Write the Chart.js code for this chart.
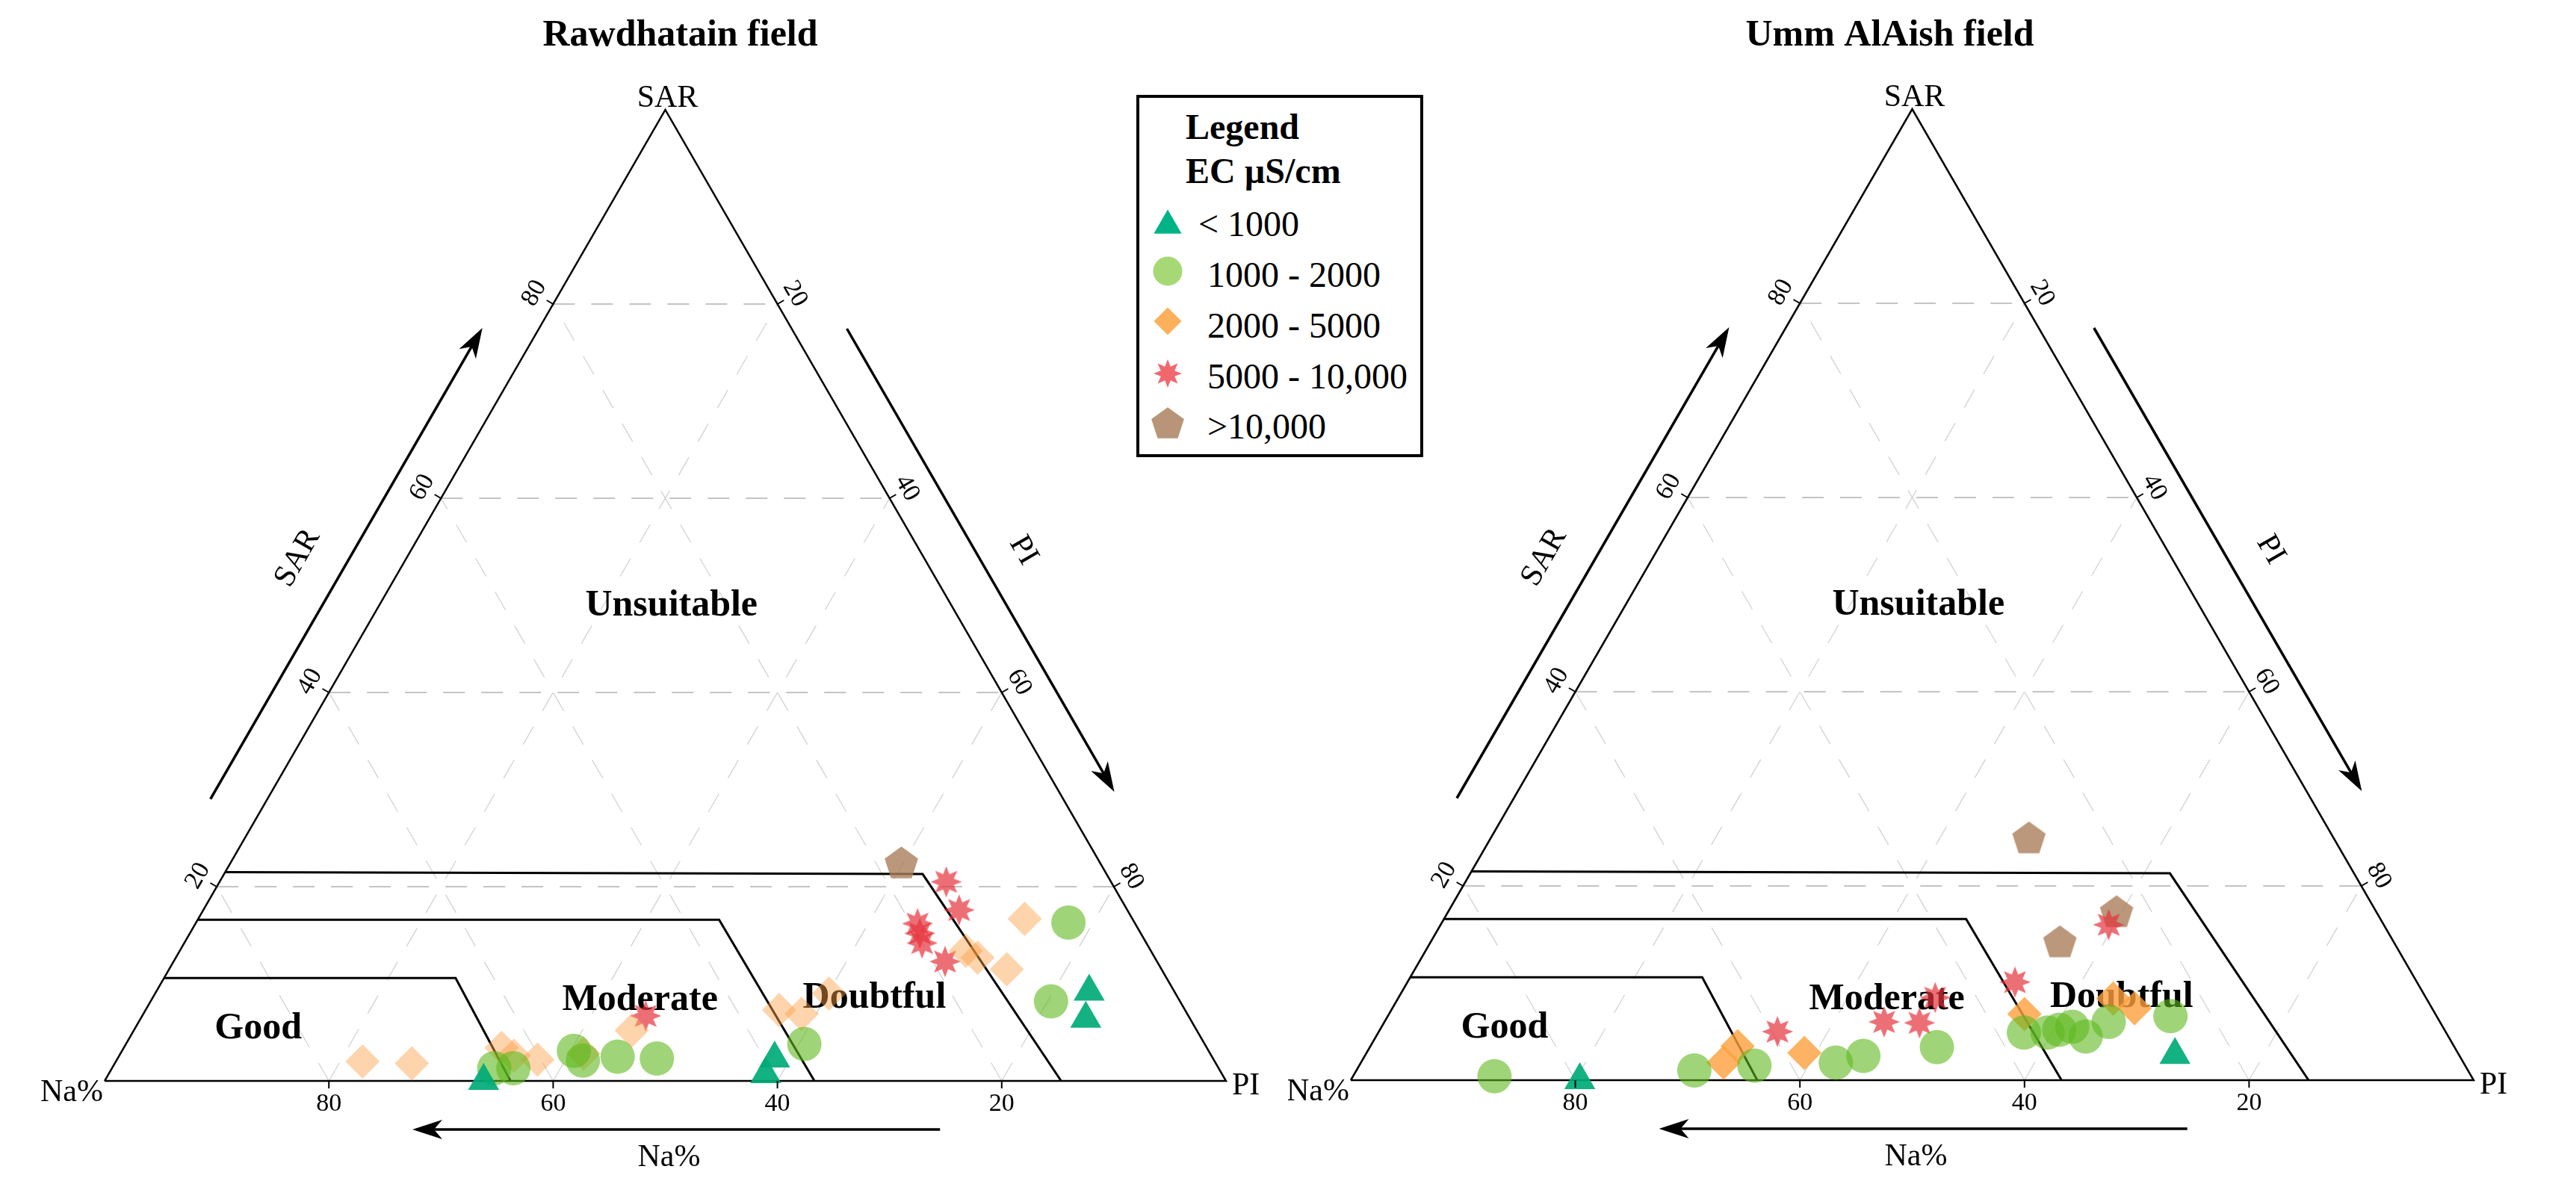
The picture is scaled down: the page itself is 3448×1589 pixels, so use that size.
<!DOCTYPE html>
<html>
<head>
<meta charset="utf-8">
<title>Ternary diagrams – Rawdhatain and Umm AlAish fields</title>
<script src="https://cdn.jsdelivr.net/npm/chart.js@4.4.1/dist/chart.umd.min.js"></script>
<style>
  html, body { margin:0; padding:0; background:#ffffff; }
  body { position:relative; width:3448px; height:1589px; overflow:hidden; }
  .tern { position:absolute; top:0; }
  #legend { position:absolute; left:1521px; top:127px; width:376px; height:477px; border:4px solid #000; background:#fff; z-index:3;
            font-family:"Liberation Serif","Times New Roman",serif; color:#000; }
  #legend .t { position:absolute; white-space:pre; font-size:48px; line-height:48px; }
  #legend .b { font-weight:bold; }
  #legend canvas { position:absolute; }
</style>
</head>
<body>
<canvas id="leftChart" class="tern" width="1724" height="1589" style="left:0px"></canvas>
<canvas id="rightChart" class="tern" width="1724" height="1589" style="left:1724px"></canvas>
<div id="legend"></div>
<script>
// ---------------- DATA (ternary: Na%, SAR; PI = 100 - Na% - SAR) ----------------
const groupLabels = ['< 1000', '1000 - 2000', '2000 - 5000', '5000 - 10,000', '>10,000'];
const gridTicks = [20, 40, 60, 80];
const zoneNames = ['Good', 'Moderate', 'Doubtful', 'Unsuitable'];

// Rawdhatain field
const rawTriNa  = [66.2, 39.1, 40.7, 7.6, 9.3];
const rawTriSar = [0.0, 2.3, 0.7, 9.2, 6.4];
const rawCirNa  = [64.6, 62.9, 56.6, 56.3, 53.0, 49.6, 35.7, 5.9, 11.5];
const rawCirSar = [1.3, 1.3, 3.1, 2.1, 2.5, 2.3, 3.8, 16.3, 8.2];
const rawDiaNa  = [76.0, 71.7, 62.9, 62.2, 60.3, 55.9, 50.4, 36.2, 34.4, 30.9, 16.5, 15.8, 13.8, 9.6];
const rawDiaSar = [2.0, 1.8, 3.4, 2.6, 2.2, 2.8, 5.2, 7.3, 6.9, 9.0, 13.4, 12.7, 11.5, 16.7];
const rawStarNa  = [48.4, 14.7, 15.0, 19.4, 19.7, 20.0, 18.9];
const rawStarSar = [6.7, 20.5, 17.6, 16.2, 15.2, 14.2, 12.3];
const rawPentNa  = [17.7];
const rawPentSar = [22.5];

// Umm AlAish field
const ummTriNa  = [79.6, 25.3];
const ummTriSar = [0.0, 2.6];
const ummCirNa  = [87.0, 68.9, 63.3, 55.9, 53.1, 46.1, 37.6, 35.5, 34.3, 33.0, 32.3, 29.5, 23.7];
const ummCirSar = [0.4, 1.0, 1.5, 1.8, 2.5, 3.4, 4.9, 4.9, 5.2, 5.5, 4.5, 6.0, 6.6];
const ummDiaNa  = [65.9, 63.8, 58.2, 36.6, 27.9, 26.5];
const ummDiaSar = [1.8, 3.5, 2.8, 6.8, 8.4, 7.4];
const ummStarNa  = [59.5, 49.5, 46.4, 43.7, 35.8, 24.5];
const ummStarSar = [5.0, 6.0, 5.9, 8.5, 10.1, 16.0];
const ummPentNa  = [27.1, 23.1, 29.7];
const ummPentSar = [25.0, 17.4, 14.3];

// Suitability zone boundaries (Na%, SAR)
const zoneGoodNa  = [89.4, 63.4, 63.8];
const zoneGoodSar = [10.6, 10.6, 0.0];
const zoneModNa   = [83.4, 36.9, 36.7];
const zoneModSar  = [16.6, 16.6, 0.0];
const zoneDoubtNa  = [78.5, 16.4, 14.7];
const zoneDoubtSar = [21.5, 21.3, 0.0];
// Zone label anchors (Na%, SAR)
const zoneLabelNa  = [83.6, 48.1, 27.1, 25.0];
const zoneLabelSar = [5.4, 8.3, 8.5, 48.9];

// ---------------- helpers ----------------
const S3 = Math.sqrt(3) / 2;
const FONT = '"Liberation Serif","Times New Roman",serif';

function ternXY(na, sar) { const pi = 100 - na - sar; return { x: pi + sar / 2, y: sar * S3 }; }
function ternPoints(naArr, sarArr) { return naArr.map((na, i) => ternXY(na, sarArr[i])); }
function withGaps(list) { const out = []; list.forEach(seg => { seg.forEach(p => out.push(p)); out.push({ x: NaN, y: NaN }); }); return out; }

function gridLines(kind) {
  return withGaps(gridTicks.map(v => {
    if (kind === 'sar') return [ternXY(100 - v, v), ternXY(0, v)];
    if (kind === 'na')  return [ternXY(v, 0), ternXY(v, 100 - v)];
    return [ternXY(100 - v, 0), ternXY(0, 100 - v)]; // constant PI
  }));
}

function makeStar(color, rOut, rIn, n) {
  const s = Math.ceil(rOut * 2 + 4); const c = document.createElement('canvas'); c.width = c.height = s;
  const g = c.getContext('2d'); g.fillStyle = color; g.beginPath();
  for (let k = 0; k < 2 * n; k++) { const r = k % 2 ? rIn : rOut; const a = -Math.PI / 2 + k * Math.PI / n; g.lineTo(s / 2 + r * Math.cos(a), s / 2 + r * Math.sin(a)); }
  g.closePath(); g.fill(); return c;
}
function makePent(color, R) {
  const s = Math.ceil(2 * R + 4); const c = document.createElement('canvas'); c.width = c.height = s;
  const g = c.getContext('2d'); g.fillStyle = color; g.beginPath();
  const cy = s / 2 + 0.0955 * R;
  for (let k = 0; k < 5; k++) { const a = -Math.PI / 2 + k * 2 * Math.PI / 5; g.lineTo(s / 2 + R * Math.cos(a), cy + R * Math.sin(a)); }
  g.closePath(); g.fill(); return c;
}

// ---------------- annotation plugin ----------------
function PX(chart, na, sar) { const q = ternXY(na, sar); return { x: chart.scales.x.getPixelForValue(q.x), y: chart.scales.y.getPixelForValue(q.y) }; }
function along(a, b, t, n, off) { return { x: a.x + (b.x - a.x) * t + n.x * off, y: a.y + (b.y - a.y) * t + n.y * off }; }
function rotText(ctx, txt, p, ang) { ctx.save(); ctx.translate(p.x, p.y); ctx.rotate(ang); ctx.fillText(txt, 0, 0); ctx.restore(); }
function arrow(ctx, a, b) {
  const dx = b.x - a.x, dy = b.y - a.y, len = Math.hypot(dx, dy), ux = dx / len, uy = dy / len;
  const hl = 40, hw = 13;
  ctx.beginPath(); ctx.moveTo(a.x, a.y); ctx.lineTo(b.x - ux * hl * 0.7, b.y - uy * hl * 0.7); ctx.lineWidth = 3.5; ctx.stroke();
  ctx.beginPath(); ctx.moveTo(b.x, b.y);
  ctx.lineTo(b.x - ux * hl - uy * hw, b.y - uy * hl + ux * hw);
  ctx.lineTo(b.x - ux * hl * 0.72, b.y - uy * hl * 0.72);
  ctx.lineTo(b.x - ux * hl + uy * hw, b.y - uy * hl - ux * hw);
  ctx.closePath(); ctx.fill();
}

const ternAnno = {
  id: 'ternAnno',
  afterDatasetDraw(chart, args) {
    if (chart.data.datasets[args.index].role !== 'zones') return;
    const ctx = chart.ctx; ctx.save();
    ctx.fillStyle = '#000'; ctx.font = 'bold 50px ' + FONT; ctx.textAlign = 'center'; ctx.textBaseline = 'middle';
    zoneNames.forEach((t, i) => { const p = PX(chart, zoneLabelNa[i], zoneLabelSar[i]); ctx.fillText(t, p.x, p.y); });
    ctx.restore();
  },
  afterDraw(chart, args, o) {
    const ctx = chart.ctx; ctx.save();
    const A = PX(chart, 0, 100), L = PX(chart, 100, 0), R = PX(chart, 0, 0);
    const nL = { x: -S3, y: -0.5 }, nR = { x: S3, y: -0.5 }, nB = { x: 0, y: 1 };
    ctx.fillStyle = '#000'; ctx.strokeStyle = '#000';
    // title
    ctx.font = 'bold 50px ' + FONT; ctx.textAlign = 'center'; ctx.textBaseline = 'middle';
    ctx.fillText(o.title, A.x + o.titleDx, 48);
    // vertex labels
    ctx.font = '42px ' + FONT;
    ctx.textAlign = 'right'; ctx.fillText('Na%', L.x - 2, L.y + 16);
    ctx.textAlign = 'left'; ctx.fillText('PI', R.x + 8, R.y + 7);
    ctx.textAlign = 'center'; ctx.textBaseline = 'alphabetic'; ctx.fillText('SAR', A.x + 3, A.y - 4);
    // ticks and tick labels
    ctx.font = '34px ' + FONT; ctx.textBaseline = 'middle'; ctx.textAlign = 'center'; ctx.lineWidth = 2;
    gridTicks.forEach(v => {
      const pS = PX(chart, 100 - v, v), pP = PX(chart, 0, 100 - v), pN = PX(chart, v, 0);
      [[pS, nL], [pP, nR], [pN, nB]].forEach(([p, n]) => { ctx.beginPath(); ctx.moveTo(p.x, p.y); ctx.lineTo(p.x + n.x * 10, p.y + n.y * 10); ctx.stroke(); });
      rotText(ctx, String(v), { x: pS.x + nL.x * 29, y: pS.y + nL.y * 29 }, -Math.PI / 3);
      rotText(ctx, String(v), { x: pP.x + nR.x * 27, y: pP.y + nR.y * 27 }, Math.PI / 3);
      ctx.fillText(String(v), pN.x, pN.y + 31);
    });
    // direction arrows
    arrow(ctx, along(L, A, 0.265, nL, 66), along(L, A, 0.75, nL, 66));
    arrow(ctx, along(A, R, 0.25, nR, 64), along(A, R, 0.727, nR, 64));
    arrow(ctx, along(R, L, 0.255, nB, 65), along(R, L, 0.7255, nB, 65));
    ctx.font = '42px ' + FONT; ctx.textAlign = 'center'; ctx.textBaseline = 'middle';
    rotText(ctx, 'SAR', along(L, A, 0.49, nL, 126), -Math.PI / 3);
    rotText(ctx, 'PI', along(A, R, 0.5, nR, 120), Math.PI / 3);
    ctx.fillText('Na%', (L.x + R.x) / 2 + 5, L.y + 103);
    ctx.restore();
  }
};

// ---------------- chart builder ----------------
const markerColors = ['rgba(0,170,120,0.92)', 'rgba(95,185,30,0.6)', null, 'rgba(230,50,60,0.7)', 'rgba(170,125,90,0.8)'];
const starImg = makeStar(markerColors[3], 21, 11, 8);
const pentImg = makePent(markerColors[4], 23.5);

function buildChart(id, series, diamondColor, pad, title, titleDx) {
  const mk = (i, pts, style, radius, color) => ({
    label: groupLabels[i], data: pts, showLine: false, clip: false, order: i,
    pointStyle: style, pointRadius: radius, pointHoverRadius: radius,
    pointBackgroundColor: color, pointBorderColor: color, pointBorderWidth: 0
  });
  const line = (pts, color, width, dash, order, role) => ({
    data: pts, showLine: true, pointRadius: 0, borderColor: color, borderWidth: width, borderDash: dash,
    fill: false, tension: 0, clip: false, order, role, borderJoinStyle: 'miter'
  });
  const datasets = [
    mk(0, series[0], 'triangle', 24, markerColors[0]),
    mk(1, series[1], 'circle', 23, markerColors[1]),
    mk(2, series[2], 'rectRot', 23, diamondColor),
    mk(3, series[3], starImg, 20, markerColors[3]),
    mk(4, series[4], pentImg, 22, markerColors[4]),
    line(withGaps([ternPoints(zoneGoodNa, zoneGoodSar), ternPoints(zoneModNa, zoneModSar), ternPoints(zoneDoubtNa, zoneDoubtSar)]), '#000', 3, [], 5, 'zones'),
    line([ternXY(100, 0), ternXY(0, 100), ternXY(0, 0), ternXY(100, 0)], '#000', 2.5, [], 6, 'outline'),
    line(gridLines('sar'), '#c4c4c4', 2.2, [29, 22], 7, 'grid'),
    line(gridLines('na'), '#d2d2d2', 1.3, [28, 24], 8, 'grid'),
    line(gridLines('pi'), '#d2d2d2', 1.3, [28, 24], 9, 'grid')
  ];
  return new Chart(document.getElementById(id), {
    type: 'scatter',
    data: { datasets },
    options: {
      responsive: false, animation: false, devicePixelRatio: 1, events: [],
      layout: { padding: pad },
      scales: {
        x: { type: 'linear', min: 0, max: 100, display: false },
        y: { type: 'linear', min: 0, max: 100 * S3, display: false }
      },
      plugins: { legend: { display: false }, tooltip: { enabled: false }, ternAnno: { title, titleDx } }
    },
    plugins: [ternAnno]
  });
}

buildChart('leftChart', [
  ternPoints(rawTriNa, rawTriSar), ternPoints(rawCirNa, rawCirSar), ternPoints(rawDiaNa, rawDiaSar),
  ternPoints(rawStarNa, rawStarSar), ternPoints(rawPentNa, rawPentSar)
], 'rgba(253,160,70,0.45)', { left: 140, right: 83, top: 147, bottom: 142 }, 'Rawdhatain field', 20);

buildChart('rightChart', [
  ternPoints(ummTriNa, ummTriSar), ternPoints(ummCirNa, ummCirSar), ternPoints(ummDiaNa, ummDiaSar),
  ternPoints(ummStarNa, ummStarSar), ternPoints(ummPentNa, ummPentSar)
], 'rgba(253,160,60,0.8)', { left: 84, right: 137, top: 146, bottom: 143 }, 'Umm AlAish field', -30);

// ---------------- HTML legend ----------------
(function () {
  const box = document.getElementById('legend');
  const addText = (txt, left, top, bold) => { const d = document.createElement('div'); d.className = 't' + (bold ? ' b' : ''); d.textContent = txt; d.style.left = left + 'px'; d.style.top = top + 'px'; box.appendChild(d); };
  addText('Legend', 62, 15, true);
  addText('EC \u00B5S/cm', 62, 74, true);
  const legendColors = ['#00b386', 'rgb(166,217,118)', 'rgb(253,176,92)', 'rgb(240,104,110)', 'rgb(184,149,120)'];
  const textX = [79, 91, 91, 91, 91], textTop = [145, 213, 281, 349, 416], symY = [171, 232, 299, 369, 435];
  groupLabels.forEach((lab, i) => {
    const c = document.createElement('canvas'); c.width = c.height = 56; c.style.left = (38 - 28) + 'px'; c.style.top = (symY[i] - 28) + 'px';
    const g = c.getContext('2d'); g.fillStyle = legendColors[i]; g.beginPath();
    if (i === 0) { const r = 21.5; g.moveTo(28, 28 - r); g.lineTo(28 + r * S3, 28 + r / 2); g.lineTo(28 - r * S3, 28 + r / 2); }
    else if (i === 1) { g.arc(28, 28, 19.5, 0, Math.PI * 2); }
    else if (i === 2) { const r = 18.5; g.moveTo(28, 28 - r); g.lineTo(28 + r, 28); g.lineTo(28, 28 + r); g.lineTo(28 - r, 28); }
    else if (i === 3) { g.drawImage(makeStar(legendColors[3], 19, 10, 8), 28 - 21, 28 - 21); }
    else { g.drawImage(makePent(legendColors[4], 23), 28 - 25, 28 - 25); }
    g.closePath(); g.fill();
    box.appendChild(c);
    addText(lab, textX[i], textTop[i], false);
  });
})();
</script>
</body>
</html>
